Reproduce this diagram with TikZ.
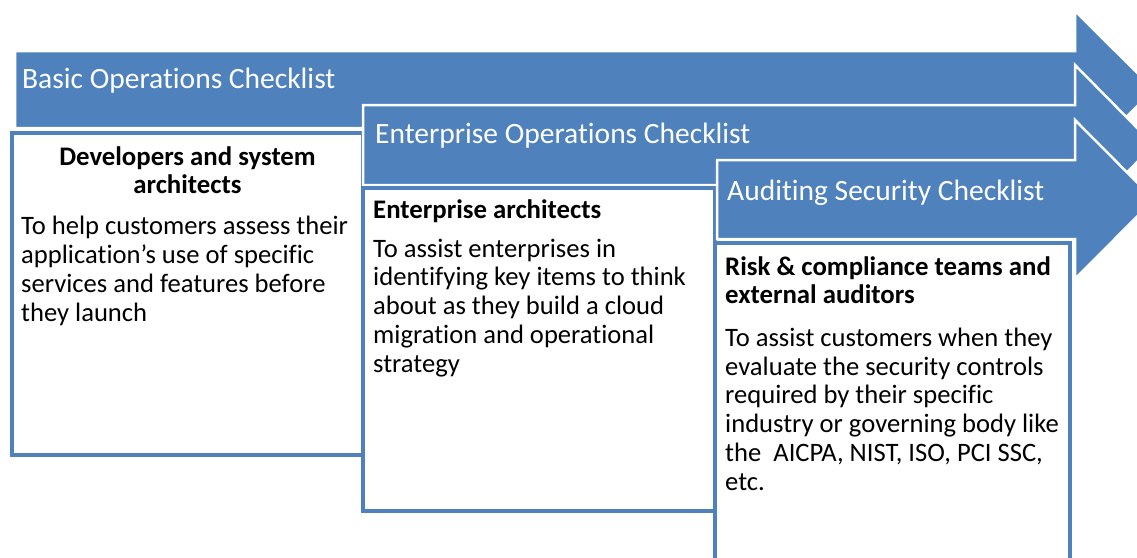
\documentclass[tikz,border=0pt]{standalone}
\usepackage{fontspec}
\setmainfont[Ligatures=NoCommon]{Carlito}
\usetikzlibrary{positioning}
\definecolor{bandblue}{HTML}{4F81BD}
\tikzset{band/.style={fill=bandblue,draw=white,line width=2.5pt,line join=miter}}
\tikzset{card/.style={draw=bandblue,fill=white,line width=4.5pt}}
\tikzset{bandtext/.style={text=white,font=\fontsize{29.5}{34}\selectfont,anchor=base west,inner sep=0pt}}
\tikzset{head/.style={font=\bfseries\fontsize{26.8}{28}\selectfont,anchor=base west,inner sep=0pt,align=left}}
\tikzset{body/.style={font=\fontsize{26.6}{28.7}\selectfont,anchor=base west,inner sep=0pt,align=left}}

\begin{document}
\begin{tikzpicture}[x=1pt,y=-1pt]
        \useasboundingbox (0,0) rectangle (1137,557);
        \clip (0,0) rectangle (1137,557);

        % basic operations
        \draw[band] (15,51) -- (1075,51) -- (1075,11) -- (1154,89.5) -- (1075,168) -- (1075,128) -- (15,128) -- cycle;
        \node[bandtext] (basic) at (22,88) {Basic Operations Checklist};
        \draw[card] (12,133) rectangle (363,455);
        % multi-line nodes sit on their last line
        \node[head,anchor=base,align=center] (devs) at (187.5,193) {Developers and system\\architects};
        \node[body] (devsnote) at (21,321) {To help customers assess their\\application’s use of specific\\services and features before\\they launch};

        % enterprise operations
        \draw[band] (363,105) -- (1075,105) -- (1075,65) -- (1154,145) -- (1075,225) -- (1075,185) -- (363,185) -- cycle;
        \node[bandtext] (enterprise) at (375,143) {Enterprise Operations Checklist};
        \draw[card] (363,188) rectangle (715,511);
        \node[head] (entarch) at (373,218) {Enterprise architects};
        \node[body] (entnote) at (373,372) {To assist enterprises in\\identifying key items to think\\about as they build a cloud\\migration and operational\\strategy};

        % auditing security
        \draw[band] (717,160) -- (1075,160) -- (1075,120) -- (1154,199.5) -- (1075,279) -- (1075,239) -- (717,239) -- cycle;
        \node[bandtext] (auditing) at (727,200) {Auditing Security Checklist};
        \draw[card] (715,243) rectangle (1070,580);
        \node[head] (risk) at (725,303) {Risk \& compliance teams and\\external auditors};
        \node[body] (risknote) at (725,490) {To assist customers when they\\evaluate the security controls\\required by their specific\\industry or governing body like\\the \ AICPA, NIST, ISO, PCI SSC,\\etc.};
\end{tikzpicture}
\end{document}
